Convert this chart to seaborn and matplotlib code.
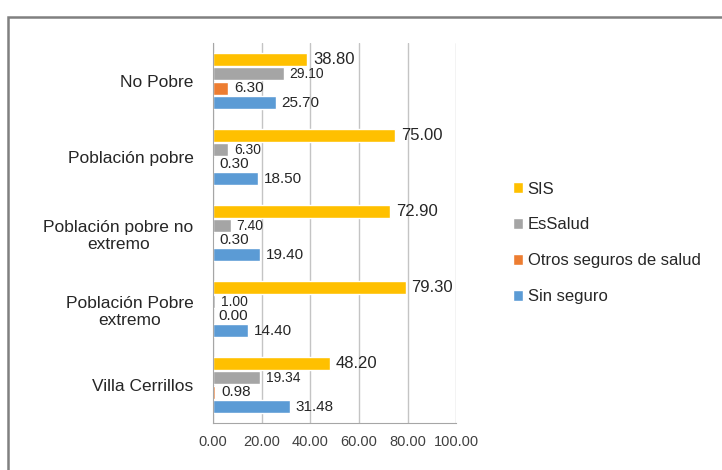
import pandas as pd
import seaborn as sns
import matplotlib.pyplot as plt
from matplotlib.patches import Rectangle

# --- Data ---
grupos = ["No Pobre", "Población pobre", "Población pobre no\nextremo",
          "Población Pobre\nextremo", "Villa Cerrillos"]
seguros = ["SIS", "EsSalud", "Otros seguros de salud", "Sin seguro"]
sis = [38.80, 75.00, 72.90, 79.30, 48.20]
essalud = [29.10, 6.30, 7.40, 1.00, 19.34]
otros = [6.30, 0.30, 0.30, 0.00, 0.98]
sin_seguro = [25.70, 18.50, 19.40, 14.40, 31.48]
colores = ["#FFC000", "#A5A5A5", "#ED7D31", "#5B9BD5"]
x_ticks = [0, 20, 40, 60, 80, 100]

df = pd.DataFrame({"grupo": grupos, seguros[0]: sis, seguros[1]: essalud,
                   seguros[2]: otros, seguros[3]: sin_seguro})
df = df.melt(id_vars="grupo", var_name="seguro", value_name="pct")

sns.set_style("white")
plt.rcParams["font.family"] = ["Liberation Sans Narrow", "Liberation Sans", "DejaVu Sans"]

fig = plt.figure(figsize=(7.22, 4.70), dpi=100)
ax = fig.add_axes([0.295, 0.1, 0.337, 0.8085])

sns.barplot(data=df, y="grupo", x="pct", hue="seguro", order=grupos,
            hue_order=seguros, palette=colores, width=0.76, gap=0.07,
            orient="h", ax=ax, saturation=1)

# --- Data labels ---
sizes = [12, 10, 11, 11]
for cont, fs in zip(ax.containers, sizes):
    ax.bar_label(cont, fmt="%.2f", padding=4, fontsize=fs, color="#262626")

# --- Axes styling ---
ax.set_xlim(0, 100)
ax.set_xticks(x_ticks)
ax.set_xticklabels([f"{v:.2f}" for v in x_ticks], fontsize=10.5, color="#404040")
ax.set_xlabel("")
ax.set_ylabel("")
ax.xaxis.grid(True, color="#C4C4C4", lw=1)
ax.set_axisbelow(True)
for s in ["top", "right"]:
    ax.spines[s].set_visible(False)
for s in ["left", "bottom"]:
    ax.spines[s].set_color("#A6A6A6")
ax.tick_params(axis="x", length=5, color="#A6A6A6", direction="out", pad=4)
ax.tick_params(axis="y", which="major", length=0, pad=14, labelsize=12.5, labelcolor="#262626")
ax.set_yticks([i - 0.5 for i in range(len(grupos) + 1)], minor=True)
ax.tick_params(axis="y", which="minor", length=5, color="#A6A6A6", direction="out")
for lbl in ax.get_yticklabels():
    lbl.set_multialignment("center")

sns.move_legend(ax, "center left", bbox_to_anchor=(1.17, 0.474), frameon=False,
                title=None, fontsize=12, handlelength=0.6, handleheight=0.6,
                handletextpad=0.3, labelspacing=1.25)

# outer frame
fig.patches.append(Rectangle((8 / 722, -0.05), 1.0, (470 - 17) / 470 + 0.05,
                             transform=fig.transFigure, fill=False,
                             edgecolor="#808080", lw=1.8))

fig.savefig("out.png", dpi=100)
